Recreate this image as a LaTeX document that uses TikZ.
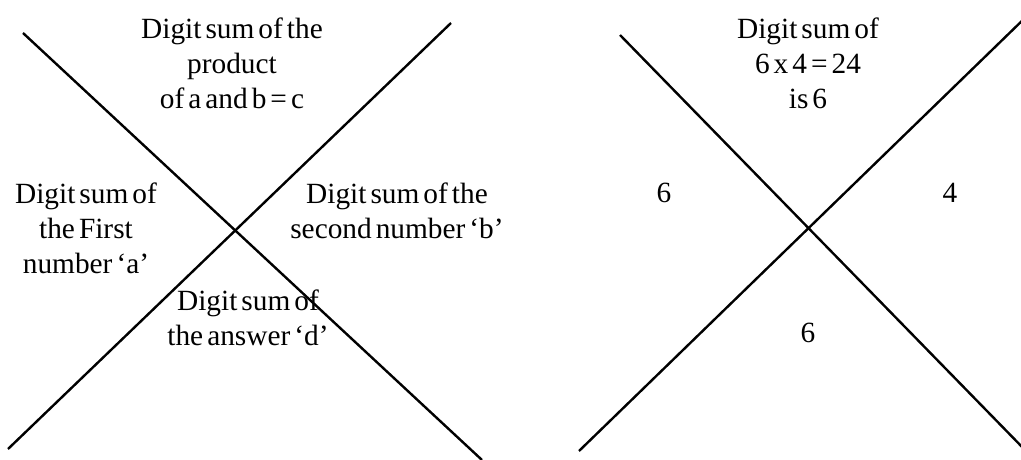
\documentclass[tikz,border=0pt]{standalone}
\usepackage{fontspec}
\setmainfont{Liberation Serif}[WordSpace=0.55]
\begin{document}
\begin{tikzpicture}[x=0.75pt,y=-0.75pt,
  lbl/.style={align=center,font=\fontsize{22}{26.25}\selectfont,inner sep=0pt},
  crossline/.style={line width=1.8pt,black}]
\useasboundingbox (0,0) rectangle (1021,460);
% left cross
\coordinate (la) at (23,33);
\coordinate (lb) at (482,460);
\coordinate (lc) at (451,23);
\coordinate (ld) at (8,449);
\draw[crossline] (la) -- (lb);
\draw[crossline] (lc) -- (ld);
% right cross
\coordinate (ra) at (620,35);
\coordinate (rb) at (1027,452);
\coordinate (rc) at (1027,16);
\coordinate (rd) at (579,451);
\draw[crossline] (ra) -- (rb);
\draw[crossline] (rc) -- (rd);
% left labels
\node[lbl] (ltop) at (232,63) {Digit sum of the\\product\\of a and b = c};
\node[lbl] (lleft) at (86,228) {Digit sum of\\the First\\number ‘a’};
\node[lbl] (lright) at (397,211) {Digit sum of the\\second number ‘b’};
\node[lbl] (lbot) at (248,318) {Digit sum of\\the answer ‘d’};
% right labels
\node[lbl] (rtop) at (808,63) {Digit sum of\\6 x 4 = 24\\is 6};
\node[lbl] (rleft) at (664,193) {6};
\node[lbl] (rright) at (950,193) {4};
\node[lbl] (rbot) at (808,333) {6};
\end{tikzpicture}
\end{document}
